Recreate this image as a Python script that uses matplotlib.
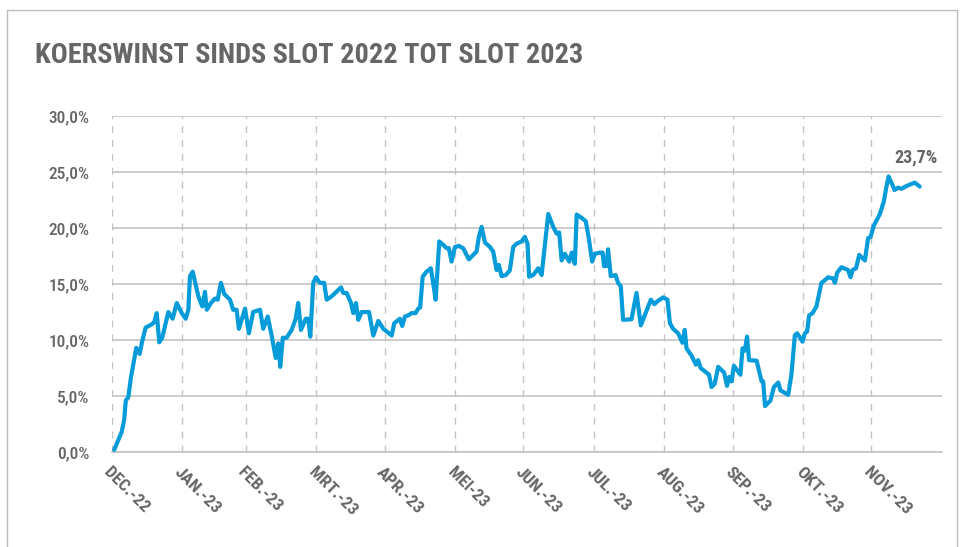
import matplotlib
matplotlib.use("Agg")
import matplotlib.pyplot as plt
from matplotlib.patches import Rectangle
from matplotlib.ticker import FuncFormatter

plt.rcParams['font.family'] = ['Roboto Condensed', 'Liberation Sans Narrow', 'DejaVu Sans']

title = "KOERSWINST SINDS SLOT 2022 TOT SLOT 2023"
month_labels = ["DEC.-22", "JAN.-23", "FEB.-23", "MRT.-23", "APR.-23", "MEI-23",
                "JUN.-23", "JUL.-23", "AUG.-23", "SEP.-23", "OKT.-23", "NOV.-23"]
# days after 31 Dec 2022 of each month tick
month_ticks = [0, 31, 59, 90, 120, 151, 181, 212, 243, 273, 304, 334]
y_ticks = [0, 5, 10, 15, 20, 25, 30]
end_label = "23,7%"

# day offset since 31 Dec 2022
days = [1.1, 4.4, 5.5, 6.2, 7.3, 8.5, 10.8, 12.3, 13.2, 14.9, 17.6, 18.7, 19.8, 20.9,
        22.2, 24.9, 26.8, 28.6, 30.8, 32.5, 33.7, 34.4, 35.6, 38.1, 39.8, 41.0, 41.8,
        43.6, 45.4, 46.6, 48.0, 49.5, 52.0, 53.4, 54.9, 55.9, 58.6, 60.3,
        62.2, 65.2, 66.6, 68.6, 70.3, 72.1, 73.2, 74.1, 75.2, 76.9, 79.1, 80.9, 82.0,
        83.2, 85.3, 86.4, 87.3, 88.6, 89.8, 91.5, 93.4, 94.5, 96.7, 100.8, 101.8,
        103.3, 105.2, 106.2, 107.4, 108.4, 109.9, 113.1, 115.0, 117.2, 119.4, 121.9,
        123.1, 124.2, 126.7, 127.7, 128.9, 130.4, 131.8, 133.6, 134.7, 135.6, 136.7,
        138.4, 140.3, 141.3, 142.4, 144.0, 145.7, 147.2, 148.2, 149.4, 150.9, 152.6,
        154.5, 157.0, 160.4, 161.4, 162.6, 164.1, 166.3, 167.7, 169.2, 170.2, 171.4,
        173.2, 175.0, 176.5, 178.0, 180.2, 181.6, 182.8, 183.5,
        185.3, 187.5, 189.0, 191.9, 194.1, 195.6, 196.7, 197.8, 199.2, 201.1, 202.2,
        203.6, 204.4, 206.6, 208.4, 209.8, 211.2, 212.4, 214.6, 215.8, 216.4, 217.5,
        218.2, 219.4, 221.5, 222.6, 223.8, 224.8, 228.5, 230.7, 232.6, 234.7, 237.0,
        238.5, 240.2, 242.4, 244.3,
        245.4, 246.8, 249.0, 250.9, 251.9, 252.7, 254.9, 256.8, 257.8, 258.9, 262.6,
        263.7, 265.1, 266.6, 269.2, 270.5, 271.4, 272.5, 273.5, 276.4, 277.3, 278.3,
        279.3, 280.2, 283.5, 285.7, 286.4, 287.2, 289.6, 291.1, 293.0, 294.0, 297.4,
        298.8, 300.3, 301.3, 303.7, 304.7,
        305.7, 306.6, 308.1, 309.8, 312.0, 313.9, 314.9, 317.1, 317.9, 318.9, 320.8,
        323.7, 324.8, 325.7, 327.2, 328.6, 331.1, 332.5, 333.6, 335.0, 337.7, 339.4,
        340.6, 341.5, 344.2, 345.7, 347.2, 349.4, 353.0, 354.0, 355.2]

gain = [0.2, 1.8, 2.9, 4.6, 4.9, 6.7, 9.3, 8.75, 9.7, 11.1, 11.4, 11.6, 12.4, 9.8,
        10.2, 12.5, 11.9, 13.3, 12.4, 11.9, 12.7, 15.7, 16.1, 13.9, 13.0, 14.3, 12.7,
        13.3, 13.7, 13.6, 15.1, 14.1, 13.6, 12.7, 12.7, 11.0, 12.8, 10.6,
        12.5, 12.7, 11.0, 12.1, 10.4, 8.4, 9.7, 7.6, 10.2, 10.2, 10.9, 11.9, 13.3,
        10.9, 11.9, 11.9, 10.3, 15.1, 15.6, 15.1, 15.1, 13.6, 13.9, 14.7, 14.2,
        14.2, 13.3, 12.4, 13.3, 11.8, 12.5, 12.5, 10.4, 11.7, 11.0, 10.6,
        10.4, 11.5, 11.9, 11.25, 12.1, 12.2, 12.4, 12.4, 12.8, 12.9, 15.65,
        16.1, 16.4, 15.1, 13.6, 18.8, 18.5, 18.2, 18.2, 17.0, 18.3, 18.4,
        18.2, 17.2, 17.9, 19.2, 20.1, 18.7, 18.3, 17.9, 16.25, 16.7, 15.7,
        15.8, 16.2, 18.3, 18.6, 18.8, 19.2, 18.6, 15.65,
        15.8, 16.4, 15.8, 21.25, 20.1, 19.5, 19.6, 17.1, 17.7, 17.0, 17.8,
        16.8, 21.2, 20.9, 20.6, 19.0, 17.0, 17.7, 17.8, 17.8, 16.6, 16.6,
        18.1, 15.7, 15.8, 15.1, 14.8, 11.8, 11.85, 14.2, 11.3, 12.4, 13.6,
        13.2, 13.5, 13.8, 13.6,
        11.5, 11.0, 10.6, 9.75, 10.9, 9.25, 8.6, 7.8, 8.2, 7.5, 6.9,
        5.8, 6.1, 7.6, 7.1, 5.9, 6.7, 6.3, 7.7, 6.9, 9.25, 9.05,
        10.3, 8.2, 8.15, 6.3, 6.3, 4.1, 4.6, 5.8, 6.2, 5.5, 5.1,
        6.9, 10.4, 10.6, 9.85, 10.6,
        10.75, 12.2, 12.4, 13.0, 15.1, 15.4, 15.6, 15.5, 15.1, 16.0, 16.5,
        16.25, 15.6, 16.25, 16.4, 17.6, 17.1, 19.1, 19.2, 20.2, 21.25, 22.35,
        23.7, 24.6, 23.4, 23.6, 23.5, 23.75, 24.05, 23.9, 23.7]

TEXT = "#666666"
GRID = "#c3c3c3"
BLUE = "#069bd9"

fig = plt.figure(figsize=(9.64, 5.47), dpi=100)
fig.patches.append(Rectangle((7 / 964, -0.05), 950 / 964, 1.05 - 10 / 547,
                             transform=fig.transFigure, fill=False,
                             edgecolor="#bdbdbd", linewidth=1.0))

ax = fig.add_axes([111.7 / 964, 95 / 547, (942 - 111.7) / 964, 336 / 547])
ax.set_xlim(0, 365)
ax.set_ylim(0, 30)

for s in ["top", "right", "left"]:
    ax.spines[s].set_visible(False)
ax.spines["bottom"].set_color(GRID)
ax.spines["bottom"].set_linewidth(1.2)

ax.set_yticks(y_ticks)
ax.yaxis.set_major_formatter(FuncFormatter(lambda v, p: f"{v:.1f}%".replace(".", ",")))
ax.tick_params(axis="y", length=0, pad=16, labelsize=12.5, labelcolor=TEXT)
for lab in ax.get_yticklabels():
    lab.set_fontweight("medium")
ax.grid(axis="y", color=GRID, linewidth=1.2, linestyle="-")

ax.set_xticks(month_ticks)
ax.set_xticklabels(month_labels, rotation=-45, ha="left", va="top",
                   rotation_mode="anchor", fontsize=12.5, color=TEXT, fontweight="bold")
ax.tick_params(axis="x", length=0, pad=9)
for t in month_ticks:
    ax.axvline(t, color=GRID, linewidth=1.0, linestyle=(0, (5, 5)), zorder=1)

ax.plot(days, gain, color=BLUE, linewidth=3.0, solid_joinstyle="round",
        solid_capstyle="round", zorder=3)

ax.annotate(end_label, xy=(days[-1], gain[-1]), xytext=(-3, 21),
            textcoords="offset points", ha="center", va="center",
            fontsize=13, fontweight="bold", color=TEXT)

fig.text(35 / 964, 1 - 55 / 547, title, fontsize=20.3, fontweight="bold",
         color=TEXT, ha="left", va="center")

fig.savefig("out.png", dpi=100)
